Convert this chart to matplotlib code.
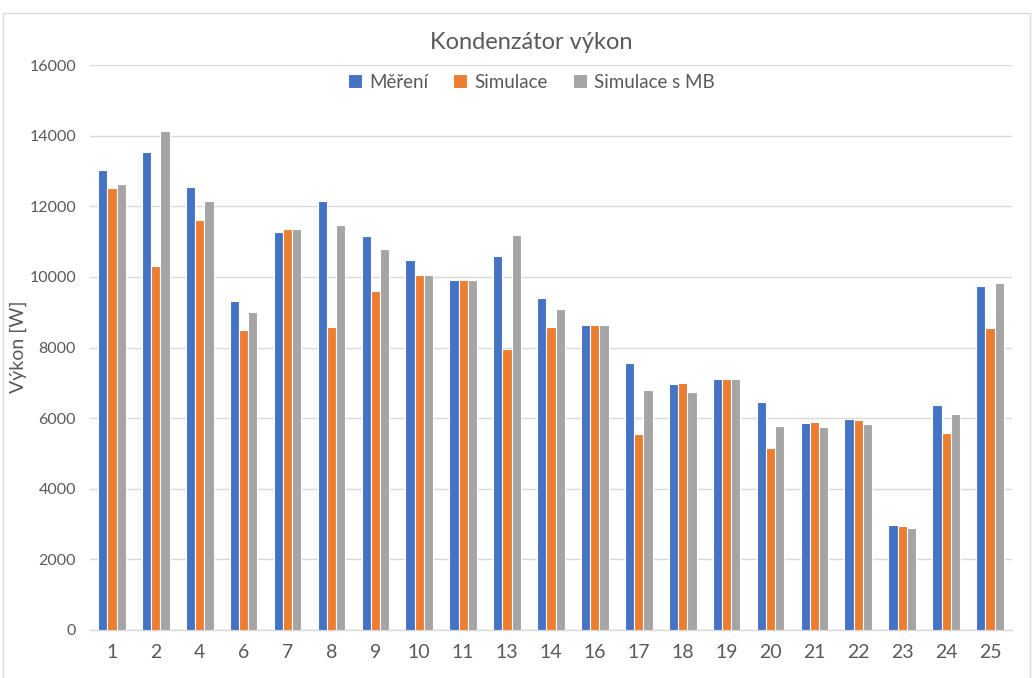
import matplotlib.pyplot as plt
import matplotlib.patches as patches
import numpy as np

plt.rcParams['font.family'] = ['Lato', 'DejaVu Sans']

labels = ["1", "2", "4", "6", "7", "8", "9", "10", "11", "13", "14",
          "16", "17", "18", "19", "20", "21", "22", "23", "24", "25"]
mereni = [13030, 13550, 12540, 9330, 11280, 12150, 11150, 10470, 9900, 10580, 9390,
          8650, 7550, 6960, 7120, 6450, 5850, 5980, 2960, 6370, 9730]
simulace = [12530, 10300, 11600, 8490, 11370, 8590, 9590, 10050, 9900, 7970, 8580,
            8650, 5550, 7000, 7100, 5140, 5880, 5940, 2950, 5580, 8550]
simulace_mb = [12620, 14120, 12140, 9000, 11370, 11470, 10780, 10050, 9900, 11190, 9080,
               8650, 6790, 6750, 7100, 5780, 5760, 5820, 2900, 6110, 9820]

text_color = "#595959"
grid_color = "#D9D9D9"

fig = plt.figure(figsize=(10.32, 6.78), dpi=100)
ax = fig.add_axes([0.0872, 0.0708, 0.8934, 0.8333])

x = np.arange(len(labels))
w = 0.21
ax.bar(x - w, mereni, w, color="#4472C4", edgecolor="white", linewidth=0.8, label="Měření", zorder=3)
ax.bar(x, simulace, w, color="#ED7D31", edgecolor="white", linewidth=0.8, label="Simulace", zorder=3)
ax.bar(x + w, simulace_mb, w, color="#A5A5A5", edgecolor="white", linewidth=0.8, label="Simulace s MB", zorder=3)

ax.set_xlim(-0.5, len(labels) - 0.5)
ax.set_ylim(0, 16000)
ax.set_yticks(range(0, 16001, 2000))
ax.set_xticks(x)
ax.set_xticklabels(labels)
ax.yaxis.grid(True, color=grid_color, linewidth=1, zorder=0)
for s in ["top", "right", "left"]:
    ax.spines[s].set_visible(False)
ax.spines["bottom"].set_color(grid_color)
ax.spines["bottom"].set_linewidth(1)
ax.tick_params(axis="both", length=0, colors=text_color)
ax.tick_params(axis="x", labelsize=14, pad=10)
ax.tick_params(axis="y", labelsize=11.5, pad=10)

# y label placed by hand, as in the Excel original
fig.text(18 / 1032, 1 - 347 / 678, "Výkon [W]", rotation=90, ha="center", va="center",
         fontsize=14, color=text_color)

fig.text(0.515, 0.938, "Kondenzátor výkon", ha="center", va="center", fontsize=17, color=text_color)
fig.legend(loc="center", bbox_to_anchor=(0.515, 0.879), ncol=3, frameon=False,
           fontsize=13.5, handlelength=0.75, handleheight=0.75, handletextpad=0.4,
           columnspacing=1.3, labelcolor=text_color)

fig.patches.append(patches.Rectangle((0.003, -0.01), 0.995, 0.991, transform=fig.transFigure,
                                     fill=False, edgecolor=grid_color, linewidth=1))

fig.savefig("out.png", dpi=100)
